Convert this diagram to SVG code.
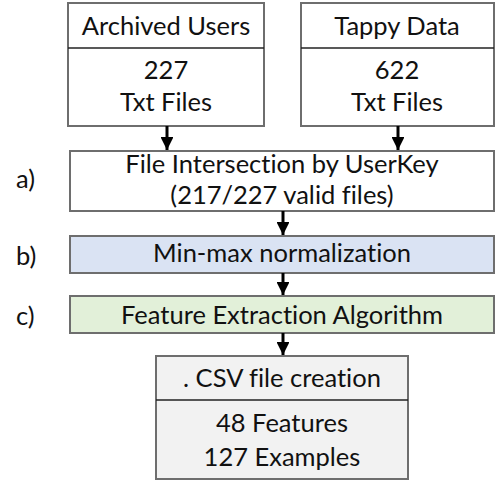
<svg xmlns="http://www.w3.org/2000/svg" width="495" height="481" viewBox="0 0 495 481">
<defs>
<style>
.box{stroke:#6e6e6e;stroke-width:2}
.div{stroke:#222;stroke-width:1.5}
text{font-family:Lato,"Open Sans",sans-serif;font-size:25.5px;fill:#111;text-anchor:middle;font-variant-ligatures:none;font-feature-settings:"liga" 0}
.lbl{text-anchor:start}
.conn line{stroke:#000;stroke-width:3}
</style>
<marker id="ah" viewBox="0 0 10 10" refX="10" refY="5" markerWidth="4.3" markerHeight="4.3" markerUnits="strokeWidth" orient="auto">
<path d="M0,0 L10,5 L0,10 z" fill="#000"/>
</marker>
</defs>
<rect width="495" height="481" fill="#fff"/>
<g id="archived">
<rect class="box" x="68" y="3" width="196" height="123" fill="#fff"/>
<line class="div" x1="68" y1="48" x2="264" y2="48"/>
<text x="166" y="35">Archived Users</text>
<text x="166" y="79">227</text>
<text x="166" y="111">Txt Files</text>
</g>
<g id="tappy">
<rect class="box" x="301" y="3" width="193" height="123" fill="#fff"/>
<line class="div" x1="301" y1="48" x2="494" y2="48"/>
<text x="397" y="35">Tappy Data</text>
<text x="397" y="79">622</text>
<text x="397" y="111">Txt Files</text>
</g>
<g id="intersection">
<rect class="box" x="70" y="151" width="424" height="60" fill="#fff"/>
<text x="282" y="173">File Intersection by UserKey</text>
<text x="282" y="204">(217/227 valid files)</text>
</g>
<g id="normalization">
<rect class="box" x="70" y="236" width="424" height="37" fill="#dae3f3"/>
<text x="282" y="262">Min-max normalization</text>
</g>
<g id="extraction">
<rect class="box" x="70" y="296" width="424" height="37" fill="#e2f0d9"/>
<text x="282" y="324">Feature Extraction Algorithm</text>
</g>
<g id="csv">
<rect class="box" x="156" y="356" width="252" height="123" fill="#f2f2f2"/>
<line class="div" x1="156" y1="400" x2="408" y2="400"/>
<text x="282" y="387">. CSV file creation</text>
<text x="282" y="432">48 Features</text>
<text x="282" y="466">127 Examples</text>
</g>
<g id="labels">
<text class="lbl" x="16" y="188">a)</text>
<text class="lbl" x="16" y="265">b)</text>
<text class="lbl" x="16" y="325">c)</text>
</g>
<g class="conn" id="connectors">
<line x1="167" y1="126" x2="167" y2="150" marker-end="url(#ah)"/>
<line x1="398" y1="126" x2="398" y2="150" marker-end="url(#ah)"/>
<line x1="283" y1="211" x2="283" y2="235" marker-end="url(#ah)"/>
<line x1="283" y1="273" x2="283" y2="295" marker-end="url(#ah)"/>
<line x1="283" y1="333" x2="283" y2="355" marker-end="url(#ah)"/>
</g>
</svg>
